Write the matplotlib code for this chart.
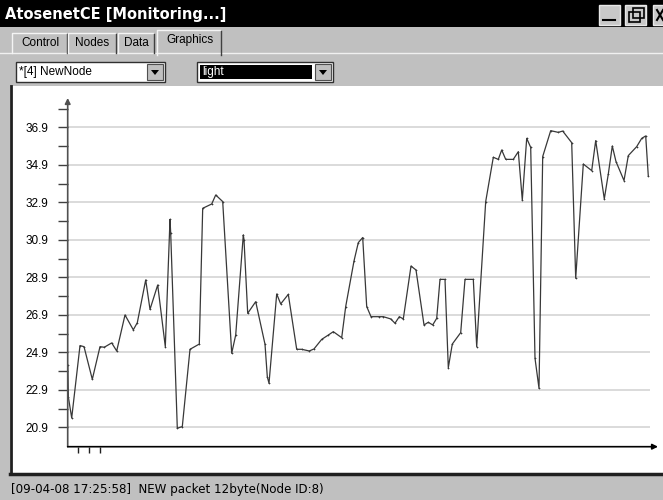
import matplotlib
matplotlib.use('Agg')
import matplotlib.pyplot as plt
from matplotlib.patches import Rectangle, Polygon
import numpy as np

plt.rcParams['font.family'] = ['Liberation Sans', 'DejaVu Sans']

# sample positions (px-like time units from the axis origin) and "light" readings
t = [0, 0.7, 4, 12.3, 16.3, 24.6, 32.3, 36.6, 44, 49, 57.3, 65.6, 69.6, 78, 82.3,
     90, 97.6, 102.3, 103, 109.6, 114.6, 122.3, 131.6, 135, 144, 148, 155, 164,
     168, 175.6, 176.3, 180, 188, 197.3, 199.6, 201.3, 209, 213, 220.6, 229, 234,
     241.6, 246.3, 254, 260.6, 265.6, 274, 278, 286.3, 290.6, 295, 299, 303.3,
     311.6, 315.6, 323, 327.3, 331.6, 335.6, 343.3, 348.3, 356.3, 360.6, 365, 369,
     372.3, 377.3, 380.6, 384.6, 393, 397.3, 405.6, 409, 418, 425.6, 430.6, 434,
     438, 445.6, 450.6, 454.6, 459, 463, 467.3, 471.3, 475, 483, 490.6, 495, 504,
     508, 515.6, 524, 528, 536.6, 540.6, 544.6, 548.3, 556.3, 560.6, 569, 574,
     578, 580.6]
light = [24.2, 22.5, 21.4, 25.26, 25.2, 23.46, 25.2, 25.17, 25.4, 24.97, 26.89,
         26.1, 26.48, 28.76, 27.19, 28.49, 25.2, 31.99, 31.25, 20.85, 20.94, 25.06,
         25.34, 32.58, 32.81, 33.29, 32.94, 24.85, 25.82, 31.16, 30.9, 26.98, 27.6,
         25.33, 23.6, 23.25, 28.01, 27.48, 27.99, 25.06, 25.06, 24.97, 25.08, 25.59,
         25.82, 26.0, 25.68, 27.34, 29.77, 30.75, 31.02, 27.34, 26.8, 26.8, 26.8,
         26.68, 26.45, 26.8, 26.68, 29.5, 29.29, 26.36, 26.5, 26.36, 26.71, 28.79,
         28.79, 24.08, 25.34, 25.95, 28.79, 28.79, 25.2, 32.94, 35.3, 35.19, 35.69,
         35.19, 35.19, 35.6, 33.02, 36.31, 35.83, 24.58, 22.98, 35.34, 36.72, 36.63,
         36.7, 36.08, 28.85, 34.94, 34.59, 36.19, 33.08, 34.41, 35.9, 35.07, 34.06,
         35.39, 35.87, 36.31, 36.44, 34.3]

ytick_vals = [20.9, 22.9, 24.9, 26.9, 28.9, 30.9, 32.9, 34.9, 36.9]
ytick_labels = ['20.9', '22.9', '24.9', '26.9', '28.9', '30.9', '32.9', '34.9', '36.9']
yminor_vals = [21.9, 23.9, 25.9, 27.9, 29.9, 31.9, 33.9, 35.9, 37.9]
xtick_vals = [10.6, 21.3, 32.3]

W, H = 663, 500
fig = plt.figure(figsize=(6.63, 5.0), dpi=100)
gray = '#c0c0c0'

# ---- window chrome ----
bg = fig.add_axes([0, 0, 1, 1])
bg.set_xlim(0, W)
bg.set_ylim(H, 0)
bg.axis('off')
bg.add_patch(Rectangle((0, 0), W, H, fc=gray, ec='none'))
bg.add_patch(Rectangle((0, 0), W, 27, fc='black', ec='none'))
bg.text(5, 14, 'AtosenetCE [Monitoring...]', color='white', fontsize=10.5,
        fontweight='bold', va='center', ha='left', family='DejaVu Sans')

# title buttons
for x0 in [599, 625, 653]:
    bg.add_patch(Rectangle((x0, 5), 21, 20, fc='#c8c8c8', ec='#e8e8e8', lw=1))
bg.plot([603, 615], [20, 20], color='black', lw=1.5)
bg.add_patch(Rectangle((629, 12), 11, 10, fc='none', ec='black', lw=1.2))
bg.add_patch(Rectangle((633, 8), 11, 10, fc='none', ec='black', lw=1.2))
bg.plot([657, 663], [10, 20], color='black', lw=1.5)
bg.plot([657, 663], [20, 10], color='black', lw=1.5)

# tabs
tabs = [('Control', 12, 68, 33), ('Nodes', 68, 117, 33),
        ('Data', 118, 155, 33), ('Graphics', 157, 222, 30)]
bg.plot([0, W], [53, 53], color='#f0f0f0', lw=1)
for name, x0, x1, y0 in tabs:
    bot = 55 if name == 'Graphics' else 53
    bg.plot([x0, x0, x1 - 2], [bot, y0, y0], color='#f4f4f4', lw=1)
    bg.plot([x1 - 1, x1 - 1], [y0 + 1, bot], color='#404040', lw=1)
    bg.text((x0 + x1) / 2, y0 + 10, name, fontsize=8.5, ha='center', va='center')
bg.add_patch(Rectangle((158, 52), 62, 4, fc=gray, ec='none'))

# combo boxes
def combo(x0, x1, label, selected=False):
    bg.add_patch(Rectangle((x0, 62), x1 - x0, 20, fc='white', ec='#303030', lw=1))
    bg.add_patch(Rectangle((x1 - 18, 64), 16, 16, fc=gray, ec='#505050', lw=0.8))
    bg.add_patch(Polygon([[x1 - 14, 70], [x1 - 6, 70], [x1 - 10, 75]],
                         closed=True, fc='black', ec='none'))
    if selected:
        bg.add_patch(Rectangle((x0 + 3, 65), x1 - x0 - 24, 14, fc='black', ec='none'))
        bg.text(x0 + 5, 72, label, fontsize=8.5, color='white', va='center')
    else:
        bg.text(x0 + 3, 72, label, fontsize=8.5, color='black', va='center')

combo(16, 165, '*[4] NewNode')
combo(197, 333, 'light', selected=True)

# plot panel and status bar
bg.add_patch(Rectangle((10, 86), W - 10, 387, fc='white', ec='none'))
bg.plot([10.5, 10.5], [86, 474], color='#202020', lw=2)
bg.plot([10, W], [474, 474], color='#202020', lw=2.5)
bg.text(11, 489, '[09-04-08 17:25:58]  NEW packet 12byte(Node ID:8)',
        fontsize=8.6, va='center', ha='left', family='DejaVu Sans')

# ---- chart ----
px_per_unit = 18.75
y0_px = 427.3
def val_at(ypx):
    return 20.9 + (y0_px - ypx) / px_per_unit

left, right, bottom_px, top_px = 67.7, 658, 446.7, 98
ax = fig.add_axes([left / W, (H - bottom_px) / H, (right - left) / W,
                   (bottom_px - top_px) / H])
ax.patch.set_alpha(0)
ax.set_xlim(0, right - left)
ax.set_ylim(val_at(bottom_px), val_at(top_px))
for s in ax.spines.values():
    s.set_visible(False)

ax.hlines(ytick_vals, 0, 582.3, color='#d4d4d4', lw=1.2, zorder=1)
ax.plot(t, light, color='#383838', lw=0.9, marker='+', ms=2, mew=0.5, zorder=3)

ax.set_yticks(ytick_vals)
ax.set_yticklabels(ytick_labels)
ax.set_yticks(yminor_vals, minor=True)
ax.tick_params(axis='y', which='both', direction='out', length=7, width=1,
               color='#404040', labelsize=8.5, pad=7)
ax.set_xticks(xtick_vals)
ax.set_xticklabels([])
ax.tick_params(axis='x', direction='out', length=4.5, width=1, color='#202020')

ymin = val_at(bottom_px)
ax.annotate('', xy=(0, val_at(top_px)), xytext=(0, ymin),
            arrowprops=dict(arrowstyle='-|>', color='#505050', lw=1.2,
                            mutation_scale=8, shrinkA=0, shrinkB=0),
            annotation_clip=False)
ax.annotate('', xy=(right - left, ymin), xytext=(0, ymin),
            arrowprops=dict(arrowstyle='-|>', color='black', lw=1.2,
                            mutation_scale=8, shrinkA=0, shrinkB=0),
            annotation_clip=False)

plt.savefig('out.png', dpi=100)
